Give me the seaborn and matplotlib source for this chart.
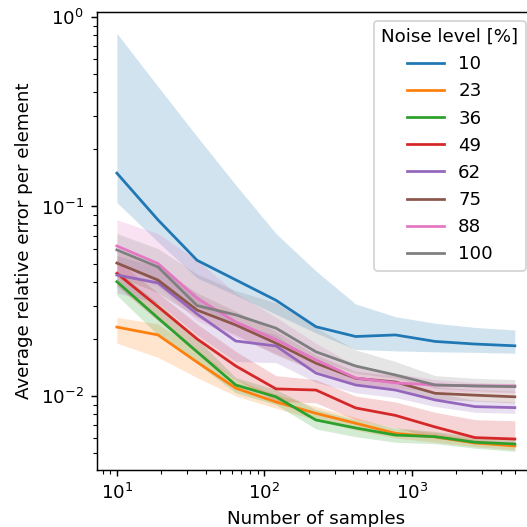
import numpy as np
import pandas as pd
import matplotlib
matplotlib.use("Agg")
import matplotlib.pyplot as plt
import seaborn as sns

samples = [10, 19, 35, 64, 120, 224, 416, 775, 1443, 2686, 5000]
noise_levels = ["10", "23", "36", "49", "62", "75", "88", "100"]

err_10 = [0.150, 0.085, 0.052, 0.041, 0.032, 0.0232, 0.0206, 0.0210, 0.0194, 0.0188, 0.0184]
up_10 = [0.82, 0.43, 0.234, 0.130, 0.072, 0.0457, 0.0306, 0.0262, 0.0242, 0.0230, 0.0223]
lo_10 = [0.105, 0.065, 0.042, 0.034, 0.027, 0.0215, 0.0176, 0.0173, 0.0171, 0.0170, 0.0168]

err_23 = [0.0231, 0.0210, 0.0151, 0.0110, 0.0093, 0.0081, 0.00718, 0.00635, 0.00608, 0.00565, 0.00545]
up_23 = [0.026, 0.024, 0.0175, 0.0122, 0.0102, 0.0088, 0.0077, 0.0067, 0.0064, 0.0059, 0.0057]
lo_23 = [0.019, 0.0160, 0.0125, 0.0100, 0.0086, 0.0075, 0.0066, 0.0060, 0.0057, 0.0054, 0.0052]

err_36 = [0.0401, 0.0258, 0.0171, 0.01143, 0.0099, 0.00747, 0.00678, 0.00622, 0.0061, 0.0057, 0.00558]
up_36 = [0.046, 0.031, 0.020, 0.0125, 0.0108, 0.0085, 0.0075, 0.0068, 0.0065, 0.0061, 0.0060]
lo_36 = [0.034, 0.021, 0.0148, 0.0104, 0.0090, 0.0067, 0.0061, 0.0057, 0.0056, 0.0053, 0.0051]

err_49 = [0.0444, 0.0296, 0.0200, 0.0144, 0.0109, 0.01075, 0.00865, 0.0079, 0.00686, 0.00603, 0.00593]
up_49 = [0.052, 0.035, 0.024, 0.0172, 0.0128, 0.0122, 0.0100, 0.0093, 0.0082, 0.0075, 0.0074]
lo_49 = [0.038, 0.025, 0.0168, 0.0122, 0.0094, 0.0092, 0.0075, 0.0068, 0.0060, 0.0056, 0.0055]

err_62 = [0.0435, 0.0395, 0.0271, 0.0195, 0.01836, 0.0132, 0.01143, 0.01075, 0.00953, 0.00879, 0.00868]
up_62 = [0.055, 0.048, 0.034, 0.024, 0.021, 0.0148, 0.0126, 0.0117, 0.0104, 0.0095, 0.0093]
lo_62 = [0.035, 0.031, 0.021, 0.0152, 0.0150, 0.0118, 0.0104, 0.0098, 0.0088, 0.0082, 0.0081]

err_75 = [0.0503, 0.0409, 0.0284, 0.0237, 0.0190, 0.0149, 0.0124, 0.01186, 0.01033, 0.0101, 0.0099]
up_75 = [0.058, 0.048, 0.035, 0.028, 0.022, 0.0165, 0.0135, 0.0128, 0.0112, 0.0108, 0.0106]
lo_75 = [0.043, 0.035, 0.026, 0.021, 0.0165, 0.0135, 0.0115, 0.0110, 0.0096, 0.0094, 0.0092]

err_88 = [0.0619, 0.0500, 0.0328, 0.0246, 0.0198, 0.0155, 0.01245, 0.01172, 0.01143, 0.0113, 0.0113]
up_88 = [0.085, 0.072, 0.052, 0.035, 0.026, 0.019, 0.0145, 0.0132, 0.0122, 0.0118, 0.0116]
lo_88 = [0.045, 0.038, 0.025, 0.0205, 0.0168, 0.0137, 0.0115, 0.0110, 0.0106, 0.0105, 0.0104]

err_100 = [0.0590, 0.0480, 0.0295, 0.0268, 0.0228, 0.0171, 0.0144, 0.0129, 0.01143, 0.0113, 0.0112]
up_100 = [0.072, 0.060, 0.044, 0.036, 0.031, 0.023, 0.0175, 0.0152, 0.0128, 0.0124, 0.0122]
lo_100 = [0.050, 0.040, 0.030, 0.024, 0.020, 0.0155, 0.0132, 0.0124, 0.0110, 0.0107, 0.0105]

series = {
    "10": (lo_10, err_10, up_10),
    "23": (lo_23, err_23, up_23),
    "36": (lo_36, err_36, up_36),
    "49": (lo_49, err_49, up_49),
    "62": (lo_62, err_62, up_62),
    "75": (lo_75, err_75, up_75),
    "88": (lo_88, err_88, up_88),
    "100": (lo_100, err_100, up_100),
}

rows = []
for lvl in noise_levels:
    lo, mid, up = series[lvl]
    for i, s in enumerate(samples):
        for v in (lo[i], mid[i], up[i]):
            rows.append({"samples": s, "error": v, "noise": lvl})
df = pd.DataFrame(rows)

fig = plt.figure(figsize=(4, 4), dpi=131.75)
ax = fig.add_axes([0.1835, 0.1082, 0.8317, 0.8697])

palette = sns.color_palette("tab10", 8)
sns.lineplot(data=df, x="samples", y="error", hue="noise", hue_order=noise_levels,
             palette=palette, estimator="median", errorbar=("pi", 100),
             err_kws={"linewidth": 0, "alpha": 0.2}, ax=ax)

ax.set_xscale("log")
ax.set_yscale("log")
ax.set_xlim(7.3, 6850)
ax.set_ylim(0.00407, 1.067)
ax.set_xlabel("Number of samples")
ax.set_ylabel("Average relative error per element")
ax.legend(title="Noise level [%]", loc="upper right")

fig.savefig("out.png", dpi=131.75)
